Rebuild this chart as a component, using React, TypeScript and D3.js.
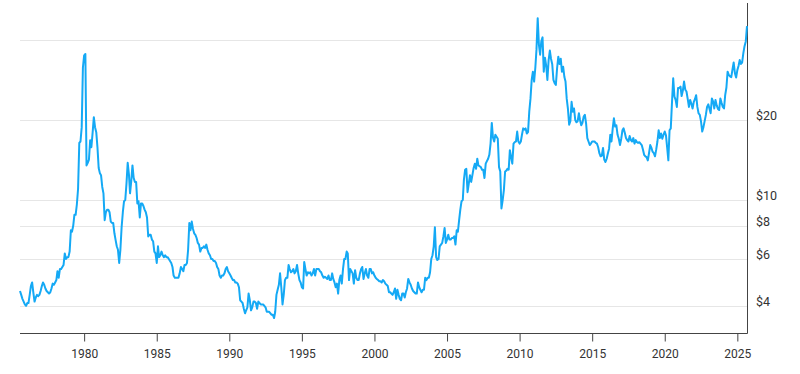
import React, { useRef, useEffect } from "react";
import * as d3 from "d3";

// monthly silver price (USD / oz), first value is Aug 1975
const startMonth = new Date(1975, 7, 1);

const prices1970s = [
  4.55, 4.4, 4.25, 4.15, 4.05,
  4.0, 4.1, 4.1, 4.4, 4.75, 4.9, 4.5, 4.15, 4.3, 4.4, 4.35, 4.4,
  4.55, 4.75, 4.9, 4.8, 4.65, 4.55, 4.5, 4.45, 4.5, 4.65, 4.85, 4.8,
  4.9, 5.0, 5.4, 5.1, 5.5, 5.5, 5.6, 5.7, 6.3, 6.0, 6.1, 6.1,
  6.4, 7.7, 7.6, 8.0, 8.8, 8.8, 9.6, 11.0, 16.4, 16.6, 18.8, 31.5,
];

const prices1980s = [
  35.0, 35.4, 13.5, 13.8, 14.2, 16.8, 15.8, 17.9, 20.5, 18.8, 18.0, 15.8,
  13.2, 12.6, 12.4, 11.2, 10.6, 8.4, 9.0, 9.2, 9.2, 9.0, 8.3, 8.2,
  8.2, 7.5, 7.1, 6.7, 6.5, 5.8, 6.5, 7.9, 9.0, 9.9, 10.0, 11.5,
  13.8, 12.5, 10.6, 11.8, 13.5, 12.1, 11.7, 11.7, 9.7, 9.9, 8.6, 9.7,
  9.7, 9.5, 9.2, 9.0, 8.6, 7.3, 7.4, 7.4, 7.1, 7.0, 6.4, 6.3,
  5.8, 6.7, 6.1, 6.2, 6.4, 6.2, 6.1, 6.2, 6.1, 6.1, 6.0, 5.9,
  5.8, 5.6, 5.2, 5.1, 5.1, 5.1, 5.1, 5.3, 5.6, 5.5, 5.4, 5.7,
  5.7, 5.8, 6.5, 8.2, 7.7, 8.3, 7.8, 7.5, 7.4, 7.2, 6.9, 6.8,
  6.4, 6.6, 6.6, 6.7, 6.6, 6.8, 6.5, 6.3, 6.2, 6.0, 6.0, 5.9,
  5.9, 5.8, 5.6, 5.5, 5.2, 5.1, 5.2, 5.2, 5.3, 5.5, 5.6, 5.4,
];

const prices1990s = [
  5.3, 5.2, 5.1, 5.0, 5.0, 4.9, 4.9, 4.85, 4.7, 4.2, 4.15, 4.1,
  3.9, 3.75, 3.85, 3.95, 4.45, 4.2, 3.85, 3.95, 4.15, 4.15, 4.1, 3.9,
  4.15, 4.1, 4.05, 4.05, 4.05, 4.0, 3.95, 3.8, 3.8, 3.8, 3.75, 3.7,
  3.7, 3.6, 3.8, 4.4, 4.6, 4.8, 5.3, 4.7, 4.05, 4.4, 5.0, 5.1,
  5.1, 5.7, 5.5, 5.35, 5.4, 5.5, 5.3, 5.4, 5.7, 5.3, 5.0, 4.9,
  4.7, 4.65, 5.85, 5.5, 5.2, 5.35, 5.3, 5.35, 5.2, 5.3, 5.5, 5.2,
  5.5, 5.5, 5.5, 5.4, 5.35, 5.2, 5.1, 5.15, 5.1, 5.05, 5.2, 5.0,
  5.0, 5.3, 5.05, 4.9, 4.7, 4.85, 4.45, 5.0, 5.2, 4.85, 5.5, 6.0,
  6.0, 6.4, 6.3, 5.0, 5.5, 5.4, 5.3, 4.85, 5.45, 5.1, 5.0, 5.0,
  5.3, 5.5, 5.6, 5.05, 5.3, 5.5, 5.2, 5.1, 5.5, 5.5, 5.3, 5.35,
];

const prices2000s = [
  5.2, 5.1, 5.05, 5.0, 4.95, 4.95, 4.9, 5.0, 4.95, 4.85, 4.8, 4.75,
  4.5, 4.5, 4.45, 4.4, 4.5, 4.65, 4.25, 4.6, 4.4, 4.25, 4.2, 4.45,
  4.45, 4.3, 4.5, 4.65, 5.05, 4.9, 4.8, 4.65, 4.55, 4.5, 4.45, 4.45,
  4.9, 4.7, 4.6, 4.5, 4.6, 4.6, 5.1, 5.0, 5.1, 5.1, 5.35, 6.0,
  6.2, 6.7, 7.9, 6.1, 5.95, 6.0, 6.7, 6.8, 6.9, 7.3, 7.85, 6.9,
  7.1, 7.4, 7.1, 7.1, 7.2, 7.2, 7.3, 6.8, 7.7, 7.6, 8.4, 9.2,
  9.9, 10.0, 11.9, 13.0, 13.1, 10.7, 11.5, 12.4, 11.7, 12.4, 13.2, 13.7,
  13.1, 14.3, 13.5, 13.4, 13.3, 13.0, 13.0, 12.1, 13.7, 14.0, 14.3, 14.8,
  16.3, 19.5, 17.2, 16.6, 17.6, 17.3, 17.0, 13.3, 12.8, 9.3, 10.0, 10.9,
  12.8, 12.9, 13.1, 13.0, 15.4, 14.5, 13.7, 16.3, 16.5, 16.6, 18.1, 16.6,
];

const prices2010s = [
  16.3, 16.6, 17.6, 18.6, 18.4, 18.6, 17.8, 18.0, 21.5, 24.0, 28.3, 30.4,
  27.9, 31.5, 36.7, 48.3, 38.5, 35.2, 39.5, 40.9, 30.4, 34.3, 32.0, 28.3,
  33.6, 36.5, 34.0, 32.4, 28.3, 27.5, 27.1, 31.3, 34.6, 32.5, 34.0, 30.4,
  31.7, 29.0, 27.9, 24.0, 22.0, 19.2, 19.8, 23.4, 21.5, 22.1, 20.0, 19.6,
  19.8, 21.2, 20.0, 19.1, 19.5, 20.6, 20.9, 19.4, 17.1, 16.6, 16.1, 16.3,
  16.6, 16.6, 16.6, 16.4, 16.3, 15.8, 15.0, 14.6, 14.7, 15.7, 14.2, 13.9,
  14.3, 15.0, 15.6, 17.6, 16.6, 18.6, 20.3, 18.9, 19.1, 17.6, 17.0, 16.1,
  17.0, 18.3, 18.6, 17.9, 17.1, 16.8, 16.6, 17.4, 16.8, 16.6, 17.1, 16.3,
  16.8, 16.5, 16.4, 16.5, 16.3, 16.1, 15.5, 14.8, 14.6, 14.5, 14.1, 15.0,
  16.1, 15.7, 15.2, 15.0, 14.6, 15.5, 16.6, 18.3, 17.1, 17.8, 17.0, 17.6,
];

const prices2020s = [
  18.1, 17.5, 15.8, 14.1, 18.3, 18.6, 23.2, 28.7, 24.5, 23.8, 22.4, 26.4,
  26.4, 26.7, 24.6, 25.8, 27.9, 26.0, 25.6, 24.0, 22.4, 23.8, 23.0, 22.1,
  23.4, 24.0, 24.8, 22.4, 21.2, 20.9, 19.8, 18.1, 18.8, 19.8, 20.9, 22.4,
  22.9, 22.0, 21.2, 24.1, 23.5, 22.1, 23.8, 22.7, 22.0, 21.8, 24.1, 23.2,
  22.4, 22.1, 24.8, 26.5, 30.4, 29.5, 29.2, 29.0, 31.0, 32.9, 30.0, 28.9,
  30.8, 32.0, 33.6, 32.5, 32.9, 35.7, 37.9, 39.5, 45.1,
];

const gridValues = [4, 6, 8, 10, 20, 40];
const tickLabels = ["$4", "$6", "$8", "$10", "$20", ""];
const yearTicks = [1980, 1985, 1990, 1995, 2000, 2005, 2010, 2015, 2020, 2025];

export default function App() {
  const ref = useRef<SVGSVGElement>(null);

  useEffect(() => {
    const width = 800;
    const height = 374;
    const left = 20;
    const right = 747;
    const top = 3;
    const bottom = 333;

    const values = [
      ...prices1970s,
      ...prices1980s,
      ...prices1990s,
      ...prices2000s,
      ...prices2010s,
      ...prices2020s,
    ];
    const data = values.map((v, i) => ({
      date: d3.timeMonth.offset(startMonth, i),
      value: v,
    }));

    const svg = d3.select(ref.current);
    svg.selectAll("*").remove();
    svg.attr("width", width).attr("height", height);

    const x = d3
      .scaleTime()
      .domain([data[0].date, data[data.length - 1].date])
      .range([left, right]);

    const y = d3
      .scaleLog()
      .domain([Math.sqrt(10), 55.08])
      .range([bottom, top]);

    // gridlines
    svg
      .append("g")
      .selectAll("line")
      .data(gridValues)
      .enter()
      .append("line")
      .attr("x1", left)
      .attr("x2", right)
      .attr("y1", (d) => Math.round(y(d)) + 0.5)
      .attr("y2", (d) => Math.round(y(d)) + 0.5)
      .attr("stroke", "#e6e6e6")
      .attr("stroke-width", 1);

    // right axis labels
    svg
      .append("g")
      .selectAll("text")
      .data(gridValues)
      .enter()
      .append("text")
      .attr("x", 756)
      .attr("y", (d) => Math.round(y(d)) - 0.5)
      .attr("font-family", "Roboto, sans-serif")
      .attr("font-size", "12.5px")
      .attr("fill", "#333")
      .text((d, i) => tickLabels[i]);

    // x axis
    const xAxis = d3
      .axisBottom(x)
      .tickValues(yearTicks.map((yr) => new Date(yr, 0, 1)))
      .tickFormat((d) => d3.timeFormat("%Y")(d as Date))
      .tickSize(8)
      .tickSizeOuter(0);

    const gx = svg
      .append("g")
      .attr("transform", `translate(0,${bottom + 0.5})`)
      .call(xAxis);
    gx.select(".domain").attr("stroke", "#444").attr("d", `M${left},0H${right + 0.5}`);
    gx.selectAll(".tick line").attr("stroke", "#444");
    gx.selectAll(".tick text")
      .attr("y", 16)
      .attr("font-family", "Roboto, sans-serif")
      .attr("font-size", "12px")
      .attr("fill", "#333");

    // right vertical axis line
    svg
      .append("line")
      .attr("x1", right + 0.5)
      .attr("x2", right + 0.5)
      .attr("y1", top)
      .attr("y2", bottom + 0.5)
      .attr("stroke", "#444");

    const line = d3
      .line<{ date: Date; value: number }>()
      .x((d) => x(d.date))
      .y((d) => y(d.value));

    svg
      .append("path")
      .datum(data)
      .attr("d", line)
      .attr("fill", "none")
      .attr("stroke", "#14a9f5")
      .attr("stroke-width", 2)
      .attr("stroke-linejoin", "round");
  }, []);

  return (
    <svg ref={ref} style={{ position: "absolute", left: 0, top: 0 }}></svg>
  );
}
